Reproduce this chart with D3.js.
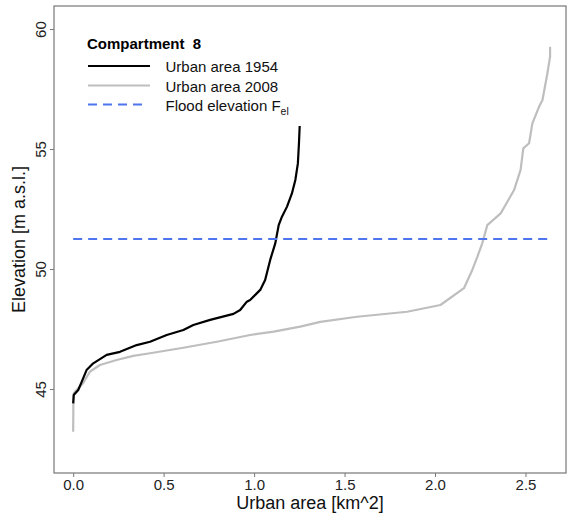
<!DOCTYPE html>
<html>
<head>
<meta charset="utf-8">
<script src="https://cdn.jsdelivr.net/npm/d3@7"></script>
<style>
  body { margin: 0; background: #fff; }
  text { font-family: "Liberation Sans", Arial, sans-serif; }
</style>
</head>
<body>
<div id="container"></div>
<script>
const WIDTH = 567;
const HEIGHT = 520;
const LEFT = 54, TOP = 6, RIGHT = 566, BOTTOM = 473;

// urban area [km^2] vs elevation [m a.s.l.]
const area1954 = [0.000, 0.003, 0.028, 0.047, 0.074, 0.111, 0.185, 0.259, 0.351, 0.425, 0.517, 0.609, 0.664, 0.757, 0.886, 0.923, 0.960, 0.978, 1.034, 1.061, 1.089, 1.117, 1.136, 1.154, 1.182, 1.209, 1.228, 1.242, 1.248, 1.252];
const elev1954 = [44.40, 44.75, 44.96, 45.30, 45.79, 46.07, 46.42, 46.55, 46.83, 46.97, 47.25, 47.46, 47.67, 47.88, 48.13, 48.29, 48.64, 48.71, 49.13, 49.54, 50.38, 51.07, 51.83, 52.18, 52.60, 53.15, 53.71, 54.40, 55.24, 55.96];

const area2008 = [0.000, 0.001, 0.004, 0.019, 0.055, 0.092, 0.148, 0.240, 0.332, 0.425, 0.609, 0.794, 0.978, 1.108, 1.255, 1.366, 1.569, 1.846, 2.030, 2.160, 2.206, 2.234, 2.261, 2.289, 2.363, 2.437, 2.473, 2.488, 2.520, 2.538, 2.575, 2.594, 2.621, 2.636, 2.636];
const elev2008 = [43.22, 44.33, 44.83, 44.96, 45.24, 45.72, 46.00, 46.21, 46.38, 46.49, 46.72, 46.97, 47.25, 47.39, 47.60, 47.80, 48.01, 48.22, 48.50, 49.20, 49.96, 50.51, 51.07, 51.83, 52.32, 53.29, 54.13, 55.03, 55.24, 56.07, 56.76, 57.04, 58.15, 58.85, 59.26];

const floodElevation = 51.25;
const floodRange = [0, 2.62];

const xTicks = [0, 0.5, 1, 1.5, 2, 2.5];
const yTicks = [45, 50, 55, 60];

const legendTitle = "Compartment  8";
const legendLabels = ["Urban area 1954", "Urban area 2008", "Flood elevation F"];

var zip = function (xs, ys) {
    return xs.map(function (x, i) { return {x: x, y: ys[i]}; });
};

var svg = d3.select("#container")
    .append("svg")
    .attr("width", WIDTH)
    .attr("height", HEIGHT);

var xScale = d3.scaleLinear().domain([-0.106, 2.724]).range([LEFT, RIGHT]);
var yScale = d3.scaleLinear().domain([41.5, 60.96]).range([BOTTOM, TOP]);

var line = d3.line()
    .x(function (d) { return xScale(d.x); })
    .y(function (d) { return yScale(d.y); });

// curves
svg.append("path")
    .attr("d", line(zip(area2008, elev2008)))
    .attr("fill", "none")
    .attr("stroke", "#bebebe")
    .attr("stroke-width", 2.2)
    .attr("stroke-linejoin", "round");

svg.append("path")
    .attr("d", line(zip(area1954, elev1954)))
    .attr("fill", "none")
    .attr("stroke", "#000")
    .attr("stroke-width", 2.2)
    .attr("stroke-linejoin", "round");

svg.append("path")
    .attr("d", line(floodRange.map(function (a) { return {x: a, y: floodElevation}; })))
    .attr("fill", "none")
    .attr("stroke", "#4f74f0")
    .attr("stroke-width", 2.2)
    .attr("stroke-dasharray", "9,6");

// box
svg.append("rect")
    .attr("x", LEFT).attr("y", TOP)
    .attr("width", RIGHT - LEFT).attr("height", BOTTOM - TOP)
    .attr("fill", "none")
    .attr("stroke", "#777")
    .attr("stroke-width", 1.2);

// axes
var xAxis = svg.append("g")
    .attr("transform", "translate(0," + BOTTOM + ")")
    .call(d3.axisBottom(xScale).tickValues(xTicks).tickFormat(d3.format(".1f")).tickSize(4).tickPadding(2));
xAxis.select(".domain").remove();
xAxis.selectAll("line").attr("stroke", "#777");
xAxis.selectAll("text")
    .attr("fill", "#222")
    .style("font-size", "15px");

var yAxis = svg.append("g")
    .attr("transform", "translate(" + LEFT + ",0)")
    .call(d3.axisLeft(yScale).tickValues(yTicks).tickSize(4).tickPadding(0));
yAxis.select(".domain").remove();
yAxis.selectAll("line").attr("stroke", "#777");
yAxis.selectAll("text")
    .attr("fill", "#222")
    .attr("x", null).attr("dy", null)
    .attr("text-anchor", "middle")
    .attr("transform", "translate(-8.5,0) rotate(-90)")
    .style("font-size", "15px");

// axis titles
svg.append("text")
    .attr("x", (LEFT + RIGHT) / 2)
    .attr("y", 509)
    .attr("text-anchor", "middle")
    .attr("fill", "#111")
    .style("font-size", "18px")
    .text("Urban area [km^2]");

svg.append("text")
    .attr("transform", "translate(25," + (TOP + BOTTOM) / 2 + ") rotate(-90)")
    .attr("text-anchor", "middle")
    .attr("fill", "#111")
    .style("font-size", "18px")
    .text("Elevation [m a.s.l.]");

// legend
var legend = svg.append("g");
legend.append("text")
    .attr("x", 87).attr("y", 48.5)
    .attr("font-weight", "bold")
    .attr("fill", "#000")
    .style("font-size", "15px")
    .style("white-space", "pre")
    .text(legendTitle);

var legendStyles = [
    {stroke: "#000", dash: null, width: 2.2},
    {stroke: "#bebebe", dash: null, width: 2.2},
    {stroke: "#4f74f0", dash: "9,6", width: 2.2}
];
var legendY = [66, 85.5, 104.5];

legendLabels.forEach(function (label, i) {
    legend.append("line")
        .attr("x1", 88).attr("x2", i === 2 ? 145 : 150)
        .attr("y1", legendY[i]).attr("y2", legendY[i])
        .attr("stroke", legendStyles[i].stroke)
        .attr("stroke-width", legendStyles[i].width)
        .attr("stroke-dasharray", legendStyles[i].dash);
    var t = legend.append("text")
        .attr("x", 165.5).attr("y", legendY[i] + 6)
        .attr("fill", "#111")
        .style("font-size", "15px")
        .text(label);
    if (i === 2) {
        t.append("tspan")
            .attr("dy", 4)
            .style("font-size", "10.5px")
            .text("el");
    }
});
</script>
</body>
</html>
